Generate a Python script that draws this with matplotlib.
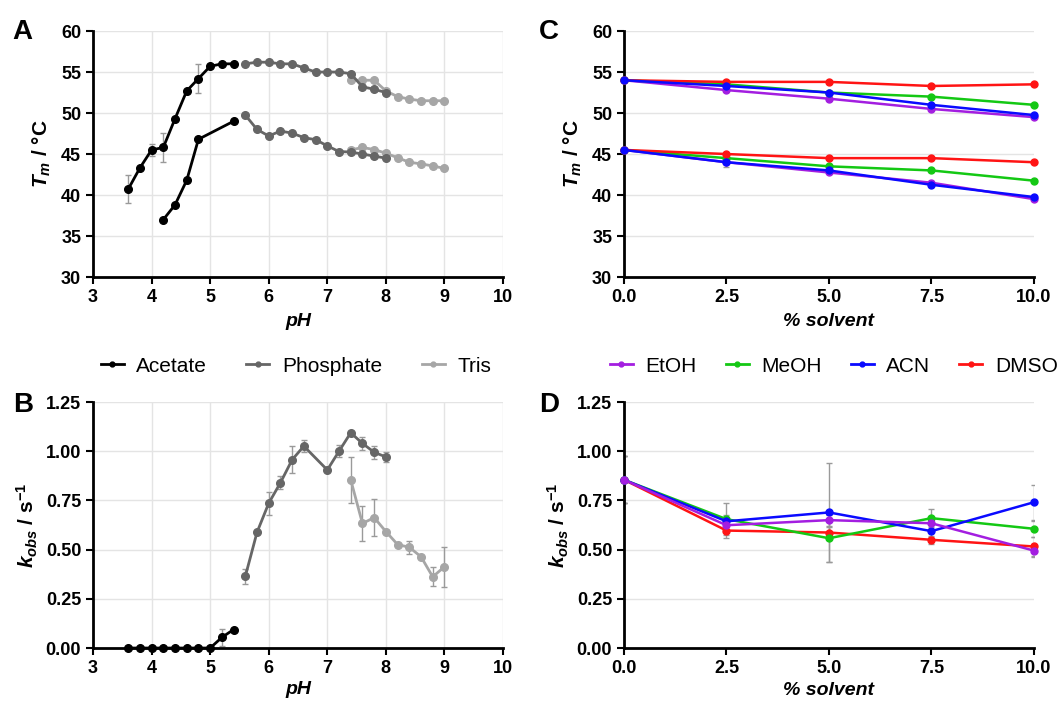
import numpy as np
import matplotlib.pyplot as plt
from matplotlib.lines import Line2D

plt.rcParams['font.family'] = ['Liberation Sans', 'DejaVu Sans']
plt.rcParams['mathtext.fontset'] = 'custom'
plt.rcParams['mathtext.it'] = 'Liberation Sans:italic:bold'
plt.rcParams['mathtext.rm'] = 'Liberation Sans:bold'

# ---- panel A: Tm vs pH ----
ac_ph_hi = [3.6, 3.8, 4.0, 4.2, 4.4, 4.6, 4.8, 5.0, 5.2, 5.4]
ac_tm_hi = [40.7, 43.3, 45.5, 45.8, 49.3, 52.7, 54.2, 55.7, 56.0, 56.0]
ac_tm_hi_err = [1.7, 0, 0.7, 1.75, 0, 0, 1.8, 0, 0, 0]
ac_ph_lo = [4.2, 4.4, 4.6, 4.8, 5.4]
ac_tm_lo = [37.0, 38.8, 41.8, 46.8, 49.0]

ph_ph = [5.6, 5.8, 6.0, 6.2, 6.4, 6.6, 6.8, 7.0, 7.2, 7.4, 7.6, 7.8, 8.0]
ph_tm_hi = [56.0, 56.2, 56.2, 56.0, 56.0, 55.5, 55.0, 55.0, 55.0, 54.8, 53.2, 52.9, 52.5]
ph_tm_lo = [49.75, 48.0, 47.2, 47.8, 47.55, 47.0, 46.75, 46.0, 45.3, 45.25, 45.0, 44.75, 44.5]

tr_ph = [7.4, 7.6, 7.8, 8.0, 8.2, 8.4, 8.6, 8.8, 9.0]
tr_tm_hi = [54.0, 54.0, 54.0, 52.7, 52.0, 51.7, 51.5, 51.5, 51.5]
tr_tm_lo = [45.5, 45.8, 45.55, 45.1, 44.55, 44.0, 43.8, 43.55, 43.25]

# ---- panel B: kobs vs pH ----
ac_ph_k = [3.6, 3.8, 4.0, 4.2, 4.4, 4.6, 4.8, 5.0, 5.2, 5.4]
ac_k = [0, 0, 0, 0, 0, 0, 0, 0, 0.054, 0.094]
ac_k_err = [0, 0, 0, 0, 0, 0, 0, 0, 0.045, 0]
ph_ph_k = [5.6, 5.8, 6.0, 6.2, 6.4, 6.6, 7.0, 7.2, 7.4, 7.6, 7.8, 8.0]
ph_k = [0.364, 0.588, 0.736, 0.84, 0.957, 1.026, 0.905, 1.0, 1.094, 1.04, 0.995, 0.971]
ph_k_err = [0.04, 0, 0.058, 0.033, 0.068, 0.031, 0, 0.03, 0, 0.032, 0.032, 0.025]
tr_ph_k = [7.4, 7.6, 7.8, 8.0, 8.2, 8.4, 8.6, 8.8, 9.0]
tr_k = [0.855, 0.633, 0.663, 0.592, 0.526, 0.512, 0.464, 0.362, 0.413]
tr_k_err = [0.117, 0.088, 0.093, 0, 0, 0.034, 0, 0.049, 0.102]

# ---- panels C and D: solvent ----
solv = [0, 2.5, 5.0, 7.5, 10.0]
solvents = ['EtOH', 'MeOH', 'ACN', 'DMSO']
solv_colors = ['#a31ee0', '#14c814', '#0a0aff', '#ff1414']
tm_hi = {'EtOH': [54.0, 52.8, 51.75, 50.5, 49.5],
         'MeOH': [54.0, 53.5, 52.5, 52.0, 51.0],
         'ACN':  [54.0, 53.3, 52.5, 51.0, 49.75],
         'DMSO': [54.0, 53.8, 53.8, 53.3, 53.5]}
tm_lo = {'EtOH': [45.5, 44.0, 42.75, 41.5, 39.5],
         'MeOH': [45.5, 44.5, 43.5, 43.0, 41.75],
         'ACN':  [45.5, 44.0, 43.0, 41.25, 39.75],
         'DMSO': [45.5, 45.0, 44.5, 44.5, 44.0]}
tm_lo_err = {'EtOH': [0, 0, 0, 0, 0], 'MeOH': [0, 0, 0, 0, 0],
             'ACN': [0, 0.6, 0, 0, 0], 'DMSO': [0, 0, 0, 0, 0]}
kobs = {'EtOH': [0.855, 0.624, 0.65, 0.634, 0.495],
        'MeOH': [0.855, 0.655, 0.558, 0.66, 0.606],
        'ACN':  [0.855, 0.644, 0.689, 0.594, 0.741],
        'DMSO': [0.855, 0.597, 0.587, 0.55, 0.516]}
kobs_err = {'EtOH': [0.12, 0.03, 0.03, 0.03, 0.03],
            'MeOH': [0.12, 0.08, 0.12, 0.047, 0.04],
            'ACN':  [0.12, 0.03, 0.25, 0.03, 0.09],
            'DMSO': [0.12, 0.04, 0.03, 0.02, 0.05]}

c_ac, c_ph, c_tr = '#000000', '#666666', '#a6a6a6'
err_c = '#9a9a9a'

fig = plt.figure(figsize=(10.63, 7.04), dpi=100)
axA = fig.add_axes([0.0875, 0.6065, 0.3857, 0.3494])
axB = fig.add_axes([0.0875, 0.0795, 0.3857, 0.3494])
axC = fig.add_axes([0.587, 0.6065, 0.3857, 0.3494])
axD = fig.add_axes([0.587, 0.0795, 0.3857, 0.3494])


def style(ax, vgrid):
    for s in ['top', 'right']:
        ax.spines[s].set_visible(False)
    for s in ['left', 'bottom']:
        ax.spines[s].set_linewidth(2)
    ax.tick_params(direction='out', width=1.5, length=5, labelsize=13)
    for lab in ax.get_xticklabels() + ax.get_yticklabels():
        lab.set_fontweight('bold')
    ax.grid(axis='y', color='#e4e4e4', lw=1)
    if vgrid:
        ax.grid(axis='x', color='#e4e4e4', lw=1)
    ax.set_axisbelow(True)


def series(ax, x, y, color, err=None, ms=5.5, lw=2):
    if err is not None:
        ax.errorbar(x, y, yerr=err, fmt='none', ecolor=err_c, elinewidth=1,
                    capsize=2.5, capthick=1, zorder=2)
    ax.plot(x, y, '-o', color=color, ms=ms, lw=lw, zorder=3, clip_on=False)


# A
series(axA, ac_ph_hi, ac_tm_hi, c_ac, ac_tm_hi_err)
series(axA, ac_ph_lo, ac_tm_lo, c_ac)
series(axA, tr_ph, tr_tm_hi, c_tr)
series(axA, tr_ph, tr_tm_lo, c_tr)
series(axA, ph_ph, ph_tm_hi, c_ph)
series(axA, ph_ph, ph_tm_lo, c_ph)
axA.set_xlim(3, 10)
axA.set_ylim(30, 60)
axA.set_xticks(range(3, 11))
axA.set_yticks(range(30, 61, 5))
style(axA, True)
axA.set_xlabel('pH', fontsize=14, fontweight='bold', style='italic', labelpad=5)
axA.set_ylabel(r'$T_m$ / °C', fontsize=15, fontweight='bold', labelpad=6)

# B
series(axB, ac_ph_k, ac_k, c_ac, ac_k_err)
series(axB, ph_ph_k, ph_k, c_ph, ph_k_err)
series(axB, tr_ph_k, tr_k, c_tr, tr_k_err)
axB.set_xlim(3, 10)
axB.set_ylim(0, 1.25)
axB.set_xticks(range(3, 11))
axB.set_yticks([0, 0.25, 0.5, 0.75, 1.0, 1.25])
axB.set_yticklabels(['0.00', '0.25', '0.50', '0.75', '1.00', '1.25'])
style(axB, True)
axB.set_xlabel('pH', fontsize=14, fontweight='bold', style='italic', labelpad=3)
axB.set_ylabel(r'$k_{obs}$ / s$^{-1}$', fontsize=15, fontweight='bold', labelpad=4)

# C
order_c = ['EtOH', 'MeOH', 'DMSO', 'ACN']
for name in order_c:
    col = solv_colors[solvents.index(name)]
    series(axC, solv, tm_hi[name], col, ms=5, lw=1.8)
    series(axC, solv, tm_lo[name], col, tm_lo_err[name], ms=5, lw=1.8)
axC.set_xlim(0, 10)
axC.set_ylim(30, 60)
axC.set_xticks(solv)
axC.set_xticklabels(['0.0', '2.5', '5.0', '7.5', '10.0'])
axC.set_yticks(range(30, 61, 5))
style(axC, False)
axC.set_xlabel('% solvent', fontsize=14, fontweight='bold', style='italic', labelpad=5)
axC.set_ylabel(r'$T_m$ / °C', fontsize=15, fontweight='bold', labelpad=6)

# D
order_d = ['DMSO', 'MeOH', 'ACN', 'EtOH']
for name in order_d:
    col = solv_colors[solvents.index(name)]
    series(axD, solv, kobs[name], col, kobs_err[name], ms=5, lw=1.8)
axD.set_xlim(0, 10)
axD.set_ylim(0, 1.25)
axD.set_xticks(solv)
axD.set_xticklabels(['0.0', '2.5', '5.0', '7.5', '10.0'])
axD.set_yticks([0, 0.25, 0.5, 0.75, 1.0, 1.25])
axD.set_yticklabels(['0.00', '0.25', '0.50', '0.75', '1.00', '1.25'])
style(axD, False)
axD.set_xlabel('% solvent', fontsize=14, fontweight='bold', style='italic', labelpad=4)
axD.set_ylabel(r'$k_{obs}$ / s$^{-1}$', fontsize=15, fontweight='bold', labelpad=4)

# legends
buf_handles = [Line2D([], [], color=c, marker='o', ms=3.5, lw=2) for c in (c_ac, c_ph, c_tr)]
fig.legend(buf_handles, ['Acetate', 'Phosphate', 'Tris'], loc='center left',
           bbox_to_anchor=(0.077, 0.48), ncol=3, frameon=False, fontsize=15,
           handlelength=1.1, columnspacing=1.9, handletextpad=0.6)
sol_handles = [Line2D([], [], color=c, marker='o', ms=3.5, lw=2) for c in solv_colors]
fig.legend(sol_handles, solvents, loc='center left', bbox_to_anchor=(0.556, 0.48),
           ncol=4, frameon=False, fontsize=15, handlelength=1.1,
           columnspacing=1.4, handletextpad=0.6)

# panel letters
for lbl, x, y in [('A', 0.012, 0.955), ('B', 0.012, 0.425), ('C', 0.507, 0.955), ('D', 0.507, 0.425)]:
    fig.text(x, y, lbl, fontsize=20, fontweight='bold', va='center')

fig.savefig('out.png', dpi=100)
